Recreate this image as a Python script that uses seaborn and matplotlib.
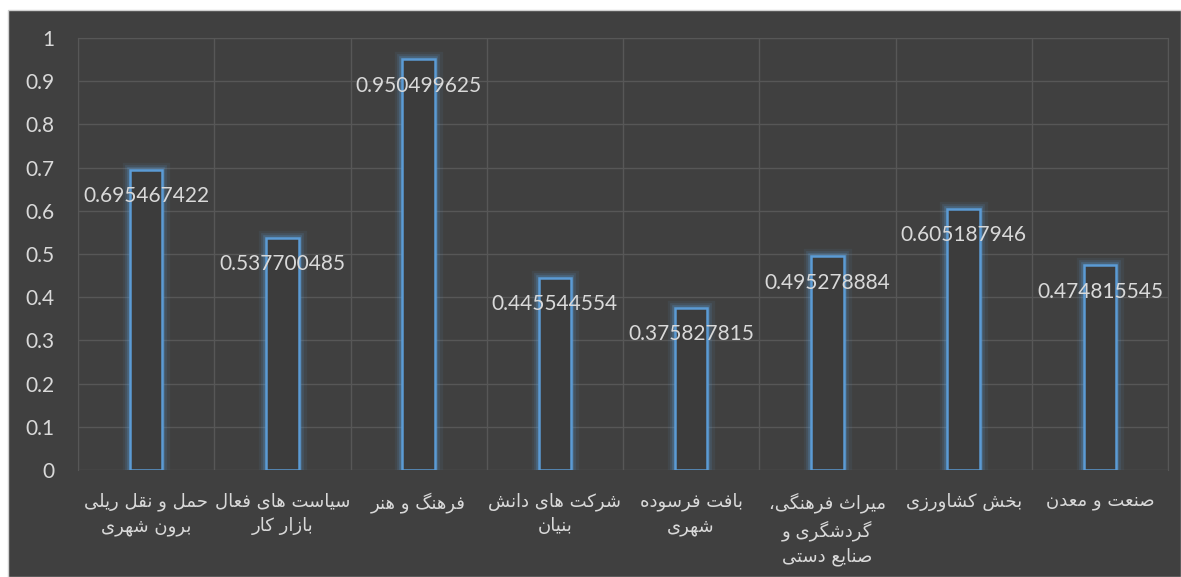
import pandas as pd
import matplotlib
matplotlib.use("Agg")
import matplotlib.pyplot as plt
import matplotlib.patheffects as pe
from matplotlib.patches import Rectangle
import seaborn as sns

# داده‌ها
categories = [
    "حمل و نقل ریلی\nبرون شهری",
    "سیاست های فعال\nبازار کار",
    "فرهنگ و هنر",
    "شرکت های دانش\nبنیان",
    "بافت فرسوده\nشهری",
    "میراث فرهنگی،\nگردشگری و\nصنایع دستی",
    "بخش کشاورزی",
    "صنعت و معدن",
]
values = [0.695467422, 0.537700485, 0.950499625, 0.445544554,
          0.375827815, 0.495278884, 0.605187946, 0.474815545]
y_ticks = [0, 0.1, 0.2, 0.3, 0.4, 0.5, 0.6, 0.7, 0.8, 0.9, 1]

# شکل‌دهی ساده حروف فارسی (isolated, final, initial, medial)
FORMS = {
    'ا': ('\uFE8D', '\uFE8E', None, None),
    'ب': ('\uFE8F', '\uFE90', '\uFE91', '\uFE92'),
    'ت': ('\uFE95', '\uFE96', '\uFE97', '\uFE98'),
    'ث': ('\uFE99', '\uFE9A', '\uFE9B', '\uFE9C'),
    'ح': ('\uFEA1', '\uFEA2', '\uFEA3', '\uFEA4'),
    'خ': ('\uFEA5', '\uFEA6', '\uFEA7', '\uFEA8'),
    'د': ('\uFEA9', '\uFEAA', None, None),
    'ر': ('\uFEAD', '\uFEAE', None, None),
    'ز': ('\uFEAF', '\uFEB0', None, None),
    'س': ('\uFEB1', '\uFEB2', '\uFEB3', '\uFEB4'),
    'ش': ('\uFEB5', '\uFEB6', '\uFEB7', '\uFEB8'),
    'ص': ('\uFEB9', '\uFEBA', '\uFEBB', '\uFEBC'),
    'ع': ('\uFEC9', '\uFECA', '\uFECB', '\uFECC'),
    'ف': ('\uFED1', '\uFED2', '\uFED3', '\uFED4'),
    'ق': ('\uFED5', '\uFED6', '\uFED7', '\uFED8'),
    'ک': ('\uFB8E', '\uFB8F', '\uFB90', '\uFB91'),
    'گ': ('\uFB92', '\uFB93', '\uFB94', '\uFB95'),
    'ل': ('\uFEDD', '\uFEDE', '\uFEDF', '\uFEE0'),
    'م': ('\uFEE1', '\uFEE2', '\uFEE3', '\uFEE4'),
    'ن': ('\uFEE5', '\uFEE6', '\uFEE7', '\uFEE8'),
    'ه': ('\uFEE9', '\uFEEA', '\uFEEB', '\uFEEC'),
    'و': ('\uFEED', '\uFEEE', None, None),
    'ی': ('\uFBFC', '\uFBFD', '\uFBFE', '\uFBFF'),
}


def shape_line(s):
    out = []
    for i, ch in enumerate(s):
        if ch not in FORMS:
            out.append(ch)
            continue
        prev = s[i - 1] if i > 0 else ''
        nxt = s[i + 1] if i + 1 < len(s) else ''
        join_prev = prev in FORMS and FORMS[prev][2] is not None
        join_next = nxt in FORMS and FORMS[ch][2] is not None
        iso, fin, ini, med = FORMS[ch]
        if join_prev and join_next:
            out.append(med)
        elif join_prev:
            out.append(fin)
        elif join_next:
            out.append(ini)
        else:
            out.append(iso)
    return ''.join(out)[::-1]


def shape(s):
    return '\n'.join(shape_line(line) for line in s.split('\n'))


labels = [shape(c) for c in categories]
df = pd.DataFrame({'Category': labels, 'Value': values})

bg = '#404040'
grid = '#575757'
txt = '#d9d9d9'
blue = '#5b9bd5'

fig = plt.figure(figsize=(11.81, 5.77), dpi=100)
fig.patches.append(Rectangle((8 / 1181, 0), 1 - 8 / 1181, 1 - 10 / 577,
                             transform=fig.transFigure, facecolor=bg,
                             edgecolor='#d0d0d0', linewidth=1, zorder=-10))
ax = fig.add_axes([78 / 1181, 1 - 470 / 577, (1168 - 78) / 1181, (470 - 38) / 577])
ax.set_facecolor(bg)

sns.barplot(data=df, x='Category', y='Value', order=labels, ax=ax,
            color='#3c3c3c', edgecolor=blue, linewidth=1.8, width=0.24, zorder=3)

glow = [pe.Stroke(linewidth=11, foreground=blue, alpha=0.08),
        pe.Stroke(linewidth=7, foreground=blue, alpha=0.15),
        pe.Stroke(linewidth=4, foreground=blue, alpha=0.25),
        pe.Normal()]
for p in ax.patches:
    p.set_path_effects(glow)

for i, v in enumerate(values):
    ax.text(i, v - 0.062, str(v), ha='center', va='center', color=txt,
            fontsize=15, family='Lato', zorder=5)

ax.set_xlim(-0.5, len(values) - 0.5)
ax.set_ylim(0, 1)
ax.set_yticks(y_ticks)
ax.set_yticklabels([f"{t:g}" for t in y_ticks], family='Lato', fontsize=15, color=txt)
ax.set_xticks(range(len(labels)))
ax.set_xticklabels(labels, family='DejaVu Sans', fontsize=13, color=txt,
                   linespacing=1.45, va='top')
ax.set_xticks([i + 0.5 for i in range(-1, len(labels))], minor=True)
ax.tick_params(axis='both', which='both', length=0)
ax.tick_params(axis='y', pad=17)
ax.tick_params(axis='x', pad=16)
ax.grid(axis='y', which='major', color=grid, linewidth=1, zorder=0)
ax.grid(axis='x', which='minor', color=grid, linewidth=1, zorder=0)
ax.grid(axis='x', which='major', visible=False)
ax.set_axisbelow(True)
for side in ['left', 'right', 'top']:
    ax.spines[side].set_color(grid)
ax.spines['bottom'].set_visible(False)
ax.set_xlabel('')
ax.set_ylabel('')

fig.savefig('out.png', dpi=100, facecolor='white')
